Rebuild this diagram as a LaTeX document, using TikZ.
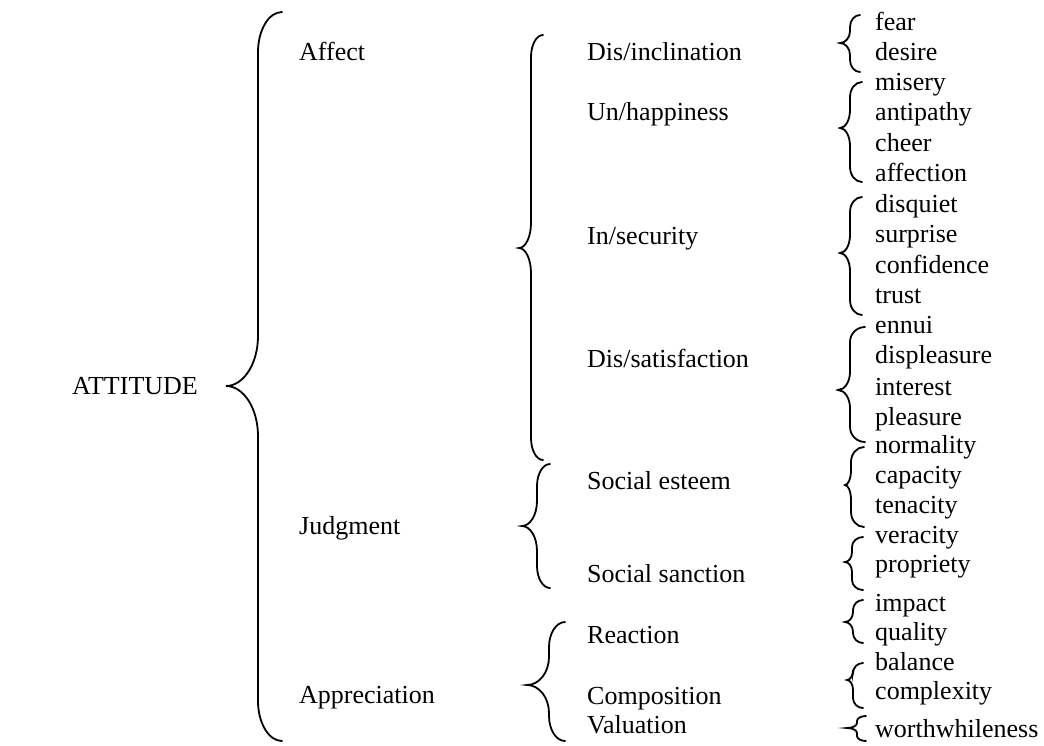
\documentclass[tikz,border=0pt]{standalone}
\usepackage{fontspec}
\setmainfont{Liberation Serif}
\newcommand\mybrace[8]{%
  \draw[bracestyle] (#1,#4) .. controls ({#2+0.45*(#1-#2)},#4) and (#2,{#4+0.45*#7}) .. (#2,{#4+#7})
    -- (#2,{#5-#8}) .. controls (#2,{#5-0.45*#8}) and ({#3+0.55*(#2-#3)},#5) .. (#3,#5)
    .. controls ({#3+0.55*(#2-#3)},#5) and (#2,{#5+0.45*#8}) .. (#2,{#5+#8})
    -- (#2,{#6-#7}) .. controls (#2,{#6-0.45*#7}) and ({#2+0.45*(#1-#2)},#6) .. (#1,#6);}
\begin{document}
\begin{tikzpicture}[x=1pt,y=-1pt,
  bracestyle/.style={line width=1.8pt,black,line cap=round},
  lbl/.style={anchor=base west,inner sep=0pt,font=\fontsize{26}{30}\selectfont}]
\fill[white] (0,0) rectangle (1044,745);
\useasboundingbox (0,0) rectangle (1044,745);
% level 0
\node[lbl] (att) at (72,394) {ATTITUDE};
% level 1
\node[lbl] (aff) at (299,60) {Affect};
\node[lbl] (jud) at (299,534) {Judgment};
\node[lbl] (app) at (299,703) {Appreciation};
% level 2
\node[lbl] (dis) at (587,60) {Dis/inclination};
\node[lbl] (unh) at (587,120) {Un/happiness};
\node[lbl] (ins) at (587,244) {In/security};
\node[lbl] (dsa) at (587,367) {Dis/satisfaction};
\node[lbl] (ses) at (587,489) {Social esteem};
\node[lbl] (ssa) at (587,582) {Social sanction};
\node[lbl] (rea) at (587,643) {Reaction};
\node[lbl] (com) at (587,704) {Composition};
\node[lbl] (val) at (587,733) {Valuation};
% level 3
\node[lbl] (w1) at (875,30) {fear};
\node[lbl] (w2) at (875,60) {desire};
\node[lbl] (w3) at (875,90) {misery};
\node[lbl] (w4) at (875,120) {antipathy};
\node[lbl] (w5) at (875,151) {cheer};
\node[lbl] (w6) at (875,181) {affection};
\node[lbl] (w7) at (875,212) {disquiet};
\node[lbl] (w8) at (875,242) {surprise};
\node[lbl] (w9) at (875,273) {confidence};
\node[lbl] (w10) at (875,303) {trust};
\node[lbl] (w11) at (875,333) {ennui};
\node[lbl] (w12) at (875,363) {displeasure};
\node[lbl] (w13) at (875,395) {interest};
\node[lbl] (w14) at (875,425) {pleasure};
\node[lbl] (w15) at (875,453) {normality};
\node[lbl] (w16) at (875,483) {capacity};
\node[lbl] (w17) at (875,513) {tenacity};
\node[lbl] (w18) at (875,543) {veracity};
\node[lbl] (w19) at (875,572) {propriety};
\node[lbl] (w20) at (875,611) {impact};
\node[lbl] (w21) at (875,640) {quality};
\node[lbl] (w22) at (875,670) {balance};
\node[lbl] (w23) at (875,699) {complexity};
\node[lbl] (w24) at (875,737) {worthwhileness};
% braces
\mybrace{282}{258}{226}{12}{386}{741}{40}{50}
\mybrace{543}{531}{519}{35}{248}{460}{22}{25}
\mybrace{550}{537}{522}{464}{526}{588}{22}{25}
\mybrace{565}{549}{527}{622}{685}{741}{25}{28}
\mybrace{860}{850}{840}{15}{43}{72}{12}{12}
\mybrace{862}{850}{840}{82}{128}{182}{15}{18}
\mybrace{862}{850}{840}{197}{253}{315}{15}{18}
\mybrace{865}{850}{838}{327}{390}{442}{15}{18}
\mybrace{864}{851}{845}{447}{485}{527}{15}{15}
\mybrace{863}{852}{845}{537}{562}{590}{10}{10}
\mybrace{863}{853}{845}{600}{622}{643}{10}{10}
\mybrace{863}{853}{847}{663}{680}{708}{10}{10}
\mybrace{866}{857}{847}{716}{728}{741}{5}{5}
\end{tikzpicture}
\end{document}
